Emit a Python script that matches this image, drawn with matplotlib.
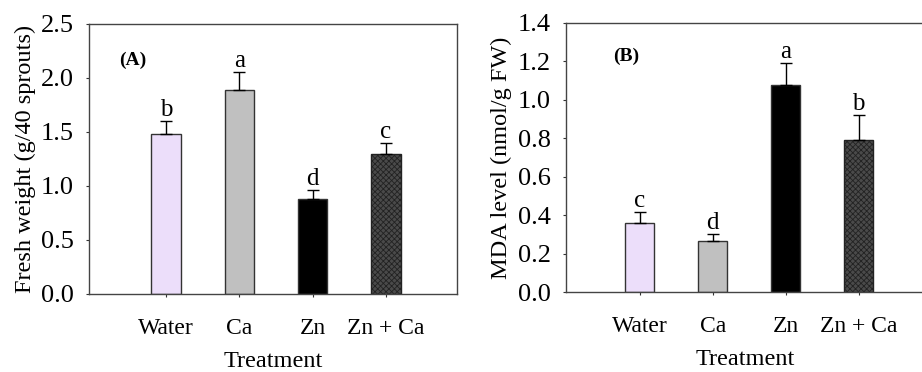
import matplotlib
matplotlib.use("Agg")
import matplotlib.pyplot as plt

plt.rcParams['font.family'] = ['Liberation Serif', 'DejaVu Serif']
plt.rcParams['hatch.linewidth'] = 0.6

treatments = ['Water', 'Ca', 'Zn', 'Zn + Ca']
colors = ['#ECDEFA', '#C0C0C0', '#000000', '#4A4A4A']

fresh_weight = [1.48, 1.89, 0.88, 1.30]
fresh_err = [0.12, 0.17, 0.08, 0.10]
fresh_letters = ['b', 'a', 'd', 'c']

mda = [0.357, 0.263, 1.076, 0.788]
mda_err = [0.06, 0.038, 0.113, 0.13]
mda_letters = ['c', 'd', 'a', 'b']


def draw_panel(ax, values, errs, letters, ymax, step, ylabel, tag, tag_xy, xlim):
    x = list(range(len(values)))
    bars = ax.bar(x, values, width=0.4, color=colors, edgecolor='#333333', linewidth=1.0, zorder=2)
    bars[3].set_hatch('xxxxxx')
    bars[3].set_edgecolor('#222222')
    ax.errorbar(x, values, yerr=[[0] * len(errs), errs], fmt='none', ecolor='black',
                elinewidth=1.0, capsize=4, capthick=1.0, zorder=3)
    for xi, v, e, lab in zip(x, values, errs, letters):
        ax.annotate(lab, (xi, v + e), xytext=(0, 0), textcoords='offset points',
                    ha='center', va='bottom', fontsize=18)
    ax.set_xlim(*xlim)
    ax.set_ylim(0, ymax)
    ticks = [i * step for i in range(int(round(ymax / step)) + 1)]
    ax.set_yticks(ticks)
    ax.set_yticklabels([f'{t:.1f}' for t in ticks], fontsize=19)
    ax.set_xticks(x)
    ax.set_xticklabels(treatments, fontsize=17)
    ax.tick_params(axis='x', direction='out', length=2.2, pad=15, color='#333333')
    ax.tick_params(axis='y', direction='out', length=2.2, pad=8.5, color='#333333')
    ax.set_xlabel('Treatment', fontsize=17.5, labelpad=8.5)
    ax.set_ylabel(ylabel, fontsize=17.5, labelpad=4)
    for s in ax.spines.values():
        s.set_color('#444444')
        s.set_linewidth(1.0)
    ax.text(tag_xy[0], tag_xy[1], tag, transform=ax.transAxes, fontsize=14,
            fontweight='bold', ha='center', va='center')


fig = plt.figure(figsize=(9.22, 3.72), dpi=100)
ax1 = fig.add_axes([0.0965, 0.2097, 0.3992, 0.7258])
ax2 = fig.add_axes([0.6139, 0.2150, 0.3880, 0.7240])

draw_panel(ax1, fresh_weight, fresh_err, fresh_letters, 2.5, 0.5,
           'Fresh weight (g/40 sprouts)', '(A)', (0.12, 0.865), (-1.05, 3.97))
draw_panel(ax2, mda, mda_err, mda_letters, 1.4, 0.2,
           'MDA level (nmol/g FW)', '(B)', (0.168, 0.875), (-1.01, 3.89))

fig.savefig('out.png', dpi=100)
